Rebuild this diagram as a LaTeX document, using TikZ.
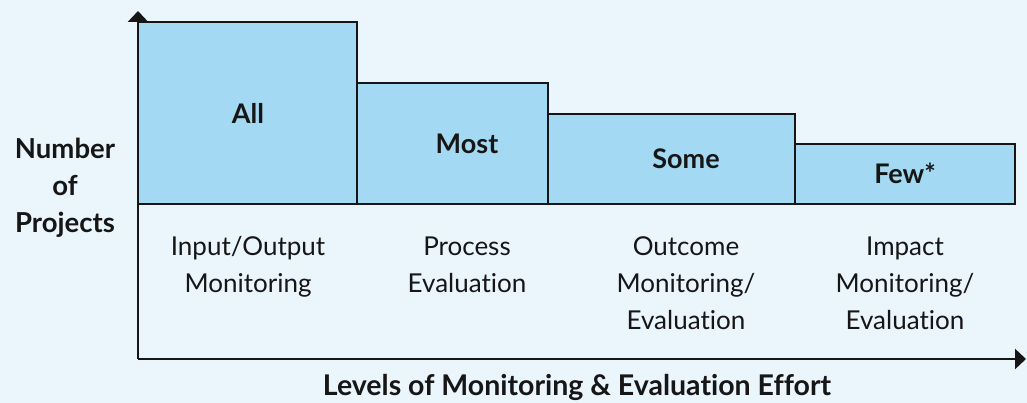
\documentclass[tikz,border=0pt]{standalone}
\usepackage{fontspec}
\setmainfont{Lato}[Ligatures=NoCommon]
\usetikzlibrary{arrows.meta}
\definecolor{bg}{RGB}{234,245,252}
\definecolor{barfill}{RGB}{163,217,242}
\definecolor{ink}{RGB}{22,22,22}
\tikzset{
  bar/.style={draw=ink,line width=2.6pt,fill=barfill},
  axis/.style={draw=ink,line width=2.6pt,-{Triangle[width=20pt,length=11pt]}},
  barlabel/.style={font=\fontsize{27}{30}\selectfont\bfseries,text=ink,anchor=base},
  catlabel/.style={font=\fontsize{26}{37}\selectfont,text=ink,align=center,anchor=base},
  axlabel/.style={font=\fontsize{27.5}{37}\selectfont\bfseries,text=ink,align=center,anchor=base}
}
\begin{document}
\begin{tikzpicture}[x=1pt,y=-1pt]
\fill[bg] (0,0) rectangle (1027,403);
\useasboundingbox (0,0) rectangle (1027,403);
\draw[bar] (138,22) rectangle (357,204);
\draw[bar] (357,83) rectangle (548,204);
\draw[bar] (548,114) rectangle (795,204);
\draw[bar] (795,144) rectangle (1015,204);
\coordinate (o) at (138,359);
\coordinate (ytip) at (138,11);
\coordinate (xtip) at (1026,359);
\draw[axis] (o) -- (ytip);
\draw[axis] (o) -- (xtip);
\node[barlabel] (all) at (248,124) {All};
\node[barlabel] (most) at (467,154) {Most};
\node[barlabel] (some) at (686,169) {Some};
\node[barlabel] (few) at (905,184) {Few*};
\node[catlabel] (c1) at (248,292) {Input/Output\\Monitoring};
\node[catlabel] (c2) at (467,292) {Process\\Evaluation};
\node[catlabel] (c3) at (686,329) {Outcome\\Monitoring/\\Evaluation};
\node[catlabel] (c4) at (905,329) {Impact\\Monitoring/\\Evaluation};
\node[axlabel] (ylab) at (65,233) {Number\\of\\Projects};
\node[axlabel, font=\fontsize{28.5}{37}\selectfont\bfseries] (xlab) at (577,395) {Levels of Monitoring \& Evaluation Effort};
\end{tikzpicture}
\end{document}
